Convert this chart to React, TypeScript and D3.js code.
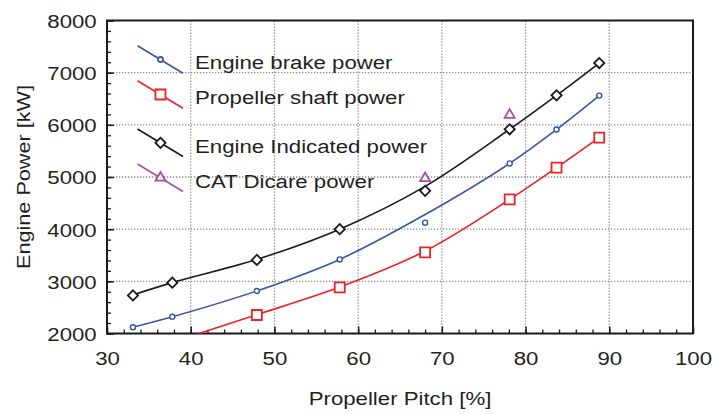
import { useRef, useEffect } from "react";
import * as d3 from "d3";

// Marker data
const pitch = [33.1, 37.8, 47.9, 57.8, 68.0, 78.1, 83.7, 88.8];
const brakePower = [2120, 2320, 2815, 3420, 4125, 5260, 5910, 6560];
const shaftPitch = [47.9, 57.8, 68.0, 78.1, 83.7, 88.8];
const shaftPower = [2355, 2885, 3555, 4570, 5180, 5755];
const indicatedPower = [2730, 2975, 3410, 4000, 4735, 5915, 6565, 7185];
const catPitch = [68.0, 78.1];
const catPower = [4975, 6190];

// Fitted curves as drawn in the picture
const brakeCurve = [2120, 2320, 2815, 3420, 4280, 5260, 5910, 6560];
const shaftCurvePitch = [41.0, 47.9, 57.8, 68.0, 78.1, 83.7, 88.8];
const shaftCurve = [2000, 2360, 2890, 3580, 4570, 5180, 5755];
const indicatedCurve = [2740, 2975, 3420, 4000, 4820, 5915, 6565, 7185];

const xTicks = [30, 40, 50, 60, 70, 80, 90, 100];
const yTicks = [2000, 3000, 4000, 5000, 6000, 7000, 8000];

const legendLabels = [
  "Engine brake power",
  "Propeller shaft power",
  "Engine Indicated power",
  "CAT Dicare power",
];

const W = 713;
const H = 414;
const left = 107;
const right = 693;
const top = 20.5;
const bottom = 333.5;

const BLUE = "#3d55a5";
const RED = "#ec2227";
const BLACK = "#1a1a1a";
const PURPLE = "#a4509f";
const TEXT = "#231f20";
const FONT = "'Liberation Sans', Arial, sans-serif";
const STRETCH = 1.17;

type Pt = [number, number];

export default function App() {
  const svgRef = useRef<SVGSVGElement | null>(null);

  useEffect(() => {
    const svg = d3.select(svgRef.current);
    svg.selectAll("*").remove();

    const x = d3.scaleLinear().domain([30, 100]).range([left, right]);
    const y = d3.scaleLinear().domain([2000, 8000]).range([bottom, top]);

    // grid
    const grid = svg.append("g").attr("stroke", "#8c8c8c").attr("stroke-width", 1.3).attr("stroke-dasharray", "1.3,1.7");
    grid.selectAll("line.gx").data(xTicks.slice(1, -1)).join("line")
      .attr("x1", (d) => x(d)).attr("x2", (d) => x(d)).attr("y1", top).attr("y2", bottom);
    grid.selectAll("line.gy").data(yTicks.slice(1, -1)).join("line")
      .attr("y1", (d) => y(d)).attr("y2", (d) => y(d)).attr("x1", left).attr("x2", right);

    // minor ticks
    const xMinor = d3.range(30, 100.1, 2);
    const yMinor = d3.range(2000, 8000.1, 200);
    svg.append("g").attr("transform", `translate(0,${bottom})`)
      .call(d3.axisBottom(x).tickValues(xMinor).tickFormat(() => "").tickSize(-4))
      .call((g) => g.select(".domain").remove())
      .selectAll("line").attr("stroke", BLACK).attr("stroke-width", 1.3);
    svg.append("g").attr("transform", `translate(${left},0)`)
      .call(d3.axisLeft(y).tickValues(yMinor).tickFormat(() => "").tickSize(-4))
      .call((g) => g.select(".domain").remove())
      .selectAll("line").attr("stroke", BLACK).attr("stroke-width", 1.3);

    // major axes
    const xAxis = svg.append("g").attr("transform", `translate(0,${bottom})`)
      .call(d3.axisBottom(x).tickValues(xTicks).tickFormat(d3.format("d")).tickSize(-7).tickPadding(18));
    const yAxis = svg.append("g").attr("transform", `translate(${left},0)`)
      .call(d3.axisLeft(y).tickValues(yTicks).tickFormat(d3.format("d")).tickSize(-7).tickPadding(8.8));
    [xAxis, yAxis].forEach((g) => {
      g.select(".domain").remove();
      g.selectAll("line").attr("stroke", BLACK).attr("stroke-width", 1.5);
      g.selectAll("text")
        .attr("fill", TEXT)
        .attr("font-family", FONT)
        .attr("font-size", 19)
        .attr("transform", `scale(${STRETCH},1)`);
    });
    yAxis.selectAll("text").attr("dy", "0.36em");

    // frame
    svg.append("rect")
      .attr("x", left).attr("y", top).attr("width", right - left).attr("height", bottom - top)
      .attr("fill", "none").attr("stroke", BLACK).attr("stroke-width", 2);

    // curves
    const line = d3.line<Pt>().x((d) => x(d[0])).y((d) => y(d[1])).curve(d3.curveCatmullRom.alpha(0.5));
    const plot = svg.append("g");
    const curves: [Pt[], string][] = [
      [pitch.map((p, i) => [p, indicatedCurve[i]] as Pt), BLACK],
      [pitch.map((p, i) => [p, brakeCurve[i]] as Pt), BLUE],
      [shaftCurvePitch.map((p, i) => [p, shaftCurve[i]] as Pt), RED],
    ];
    curves.forEach(([pts, c]) => {
      plot.append("path").attr("d", line(pts)).attr("fill", "none").attr("stroke", c).attr("stroke-width", 1.6);
    });

    const circle = d3.symbol(d3.symbolCircle, 20);
    const square = d3.symbol(d3.symbolSquare, 100);
    const diamond = d3.symbol(d3.symbolSquare, 52);
    const triangle = d3.symbol(d3.symbolTriangle, 44);

    const drawMarkers = (
      xs: number[], ys: number[], shape: any, color: string, rot: number, sw: number
    ) => {
      plot.append("g").selectAll("path").data(xs.map((p, i) => [p, ys[i]] as Pt)).join("path")
        .attr("d", shape())
        .attr("transform", (d) => `translate(${x(d[0])},${y(d[1])}) rotate(${rot})`)
        .attr("fill", "white").attr("stroke", color).attr("stroke-width", sw);
    };
    drawMarkers(pitch, brakePower, circle, BLUE, 0, 1.4);
    drawMarkers(shaftPitch, shaftPower, square, RED, 0, 1.8);
    drawMarkers(pitch, indicatedPower, diamond, BLACK, 45, 1.8);
    drawMarkers(catPitch, catPower, triangle, PURPLE, 0, 1.8);

    // legend
    const legend = svg.append("g");
    const items: { c: string; shape: any; rot: number; y0: number; ty: number }[] = [
      { c: BLUE, shape: circle, rot: 0, y0: 45.7, ty: 69 },
      { c: RED, shape: square, rot: 0, y0: 80.7, ty: 104 },
      { c: BLACK, shape: diamond, rot: 45, y0: 129, ty: 153.3 },
      { c: PURPLE, shape: triangle, rot: 0, y0: 164, ty: 188.3 },
    ];
    items.forEach((it, i) => {
      legend.append("line")
        .attr("x1", 137.5).attr("y1", it.y0).attr("x2", 183).attr("y2", it.y0 + 27.5)
        .attr("stroke", it.c).attr("stroke-width", 1.6);
      legend.append("path").attr("d", it.shape())
        .attr("transform", `translate(160.5,${it.y0 + 13.8}) rotate(${it.rot})`)
        .attr("fill", "white").attr("stroke", it.c).attr("stroke-width", 1.8);
      legend.append("text")
        .attr("transform", `translate(195,${it.ty}) scale(${STRETCH},1)`)
        .attr("fill", TEXT).attr("font-family", FONT).attr("font-size", 19)
        .text(legendLabels[i]);
    });

    // axis titles
    svg.append("text")
      .attr("transform", `translate(400,405) scale(${STRETCH},1)`)
      .attr("text-anchor", "middle")
      .attr("fill", TEXT).attr("font-family", FONT).attr("font-size", 19)
      .text("Propeller Pitch [%]");
    svg.append("text")
      .attr("transform", `translate(30,177) rotate(-90) scale(1.14,1)`)
      .attr("text-anchor", "middle")
      .attr("fill", TEXT).attr("font-family", FONT).attr("font-size", 19)
      .text("Engine Power [kW]");
  }, []);

  return (
    <svg
      ref={svgRef}
      width={W}
      height={H}
      style={{ position: "absolute", left: 0, top: 0, background: "white" }}
    />
  );
}
